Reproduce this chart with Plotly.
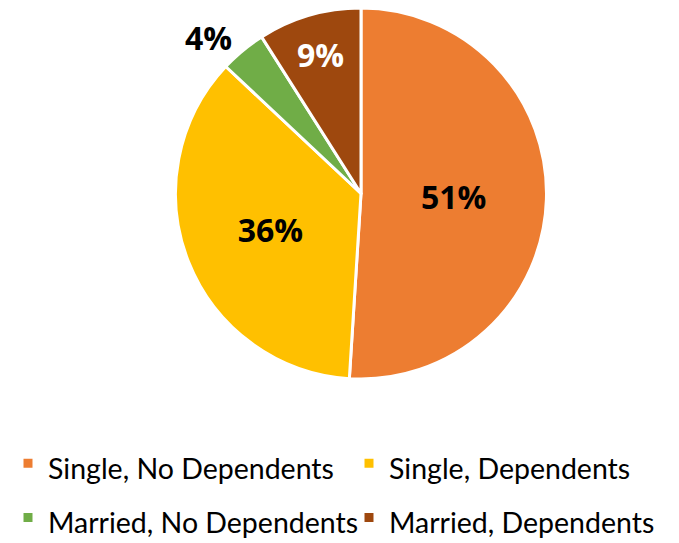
import plotly.graph_objects as go

categories = ["Single, No Dependents", "Single, Dependents", "Married, No Dependents", "Married, Dependents"]
shares = [51, 36, 4, 9]
colors = ["#ED7D31", "#FFC000", "#70AD47", "#9E480E"]
label_colors = ["black", "black", "black", "white"]
label_positions = ["inside", "inside", "outside", "inside"]

legend_labels = [f"<span style='font-size:28.5px'>{c}</span>" for c in categories]

W, H = 679, 543
# pie box in figure pixels (page body adds an 8px offset)
left, right, top, bottom = 166, 540, 0, 371

fig = go.Figure(go.Pie(
    labels=legend_labels,
    values=shares,
    sort=False,
    direction="clockwise",
    rotation=0,
    marker=dict(colors=colors, line=dict(color="white", width=3)),
    textinfo="percent",
    textposition=label_positions,
    insidetextorientation="horizontal",
    textfont=dict(family="Open Sans", size=32, color=label_colors, weight="bold"),
    outsidetextfont=dict(family="Open Sans", size=32, color="black", weight="bold"),
    domain=dict(x=[left / W, right / W], y=[1 - bottom / H, 1 - top / H]),
    automargin=False,
    hoverinfo="label+percent",
))

fig.update_layout(
    width=W, height=H,
    margin=dict(l=0, r=0, t=0, b=0, autoexpand=False),
    paper_bgcolor="white",
    font=dict(family="Lato", color="black"),
    legend=dict(
        orientation="h",
        xref="container", yref="container",
        x=0, xanchor="left",
        y=1 - 423 / H, yanchor="top",
        entrywidth=296,
        font=dict(size=39.5, family="Lato", color="black"),
        bgcolor="rgba(0,0,0,0)",
    ),
)

fig.write_html("out.html")
